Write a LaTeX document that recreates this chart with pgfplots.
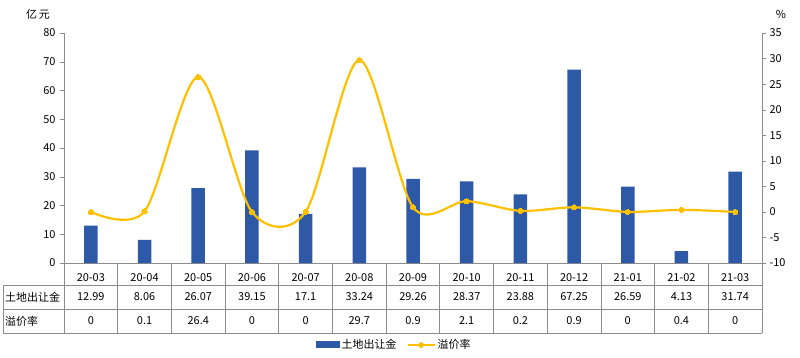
\documentclass[border=0pt]{standalone}
\usepackage{pgfplots}
\pgfplotsset{compat=1.18}
\usepackage{fontspec}
\setmainfont{Noto Sans CJK SC}
\definecolor{barblue}{HTML}{2E59A7}
\definecolor{lineyellow}{HTML}{FFC000}
\definecolor{axgray}{HTML}{8C8C8C}
\begin{document}
\begin{tikzpicture}[font=\fontsize{11}{13}\selectfont]
\path[use as bounding box] (-64bp,-95bp) rectangle (736bp,263bp);
\begin{axis}[
  at={(0,0)}, anchor=south west, scale only axis,
  width=698bp, height=230bp,
  xmin=-0.5, xmax=12.5, ymin=0, ymax=80,
  ytick={0,10,...,80},
  xtick={0,...,12},
  xticklabels={20-03,20-04,20-05,20-06,20-07,20-08,20-09,20-10,20-11,20-12,21-01,21-02,21-03},
  axis y line*=left, axis x line*=bottom,
  axis line style={-, axgray},
  tick style={axgray}, major tick length=4bp, tick align=outside,
  xtick style={draw=none},
  xticklabel style={anchor=center, yshift=-11bp},
  yticklabel style={xshift=-1bp},
  /pgf/number format/assume math mode=true,
  clip=false,
  legend style={at={(0.473,-0.3565)}, anchor=center, draw=none, fill=none,
    legend columns=2, /tikz/every even column/.append style={column sep=8bp},
    font=\fontsize{11}{13}\selectfont},
  legend image code/.code={},
]
\addplot[ybar, bar width=13.5bp, fill=barblue, draw=none, bar shift=0pt,
  legend image code/.code={\fill[barblue] (0bp,-3.5bp) rectangle (24bp,3.5bp);}]
  coordinates {(0,12.99) (1,8.06) (2,26.07) (3,39.15) (4,17.1) (5,33.24) (6,29.26)
   (7,28.37) (8,23.88) (9,67.25) (10,26.59) (11,4.13) (12,31.74)};
\addlegendentry{土地出让金}
\addlegendimage{legend image code/.code={\draw[lineyellow, line width=2.2bp] (0bp,0bp) -- (27bp,0bp); \fill[lineyellow] (13.5bp,0bp) circle (2.6bp);}}
\addlegendentry{溢价率}
\end{axis}
\begin{axis}[
  at={(0,0)}, anchor=south west, scale only axis,
  width=698bp, height=230bp,
  xmin=-0.5, xmax=12.5, ymin=-10, ymax=35,
  ytick={-10,-5,...,35},
  axis y line*=right, axis x line=none,
  axis line style={-, axgray},
  tick style={axgray}, major tick length=4bp, tick align=outside,
  /pgf/number format/assume math mode=true,
  clip=false,
]
\addplot[lineyellow, line width=2.2bp, smooth, tension=0.5, mark=*, mark size=2.6bp,
  mark options={fill=lineyellow, draw=lineyellow, line width=0pt}]
  coordinates {(0,0) (1,0.1) (2,26.4) (3,0) (4,0) (5,29.7) (6,0.9) (7,2.1) (8,0.2)
   (9,0.9) (10,0) (11,0.4) (12,0)};
\end{axis}
% unit labels
\node at (-26bp,249bp) {亿\hspace{2bp}元};
\node at (717bp,249bp) {\%};
% table grid
\begin{scope}[draw=axgray, line width=0.75bp]
\foreach \y in {-22,-46,-70} \draw (-61bp,\y bp) -- (698bp,\y bp);
\draw (-61bp,-22bp) -- (-61bp,-70bp);
\foreach \k in {0,...,13} {
  \pgfmathsetmacro{\xx}{698*\k/13}
  \draw (\xx bp,0bp) -- (\xx bp,-70bp);
}
\end{scope}
\node[anchor=west, inner sep=0pt] at (-59bp,-34bp) {土地出让金};
\node[anchor=west, inner sep=0pt] at (-59bp,-58bp) {溢价率};
\foreach \v [count=\i from 0] in {12.99,8.06,26.07,39.15,17.1,33.24,29.26,28.37,23.88,67.25,26.59,4.13,31.74} {
  \pgfmathsetmacro{\xx}{698*(\i+0.5)/13}
  \node at (\xx bp,-34bp) {\v};
}
\foreach \v [count=\i from 0] in {0,0.1,26.4,0,0,29.7,0.9,2.1,0.2,0.9,0,0.4,0} {
  \pgfmathsetmacro{\xx}{698*(\i+0.5)/13}
  \node at (\xx bp,-58bp) {\v};
}
\end{tikzpicture}
\end{document}
